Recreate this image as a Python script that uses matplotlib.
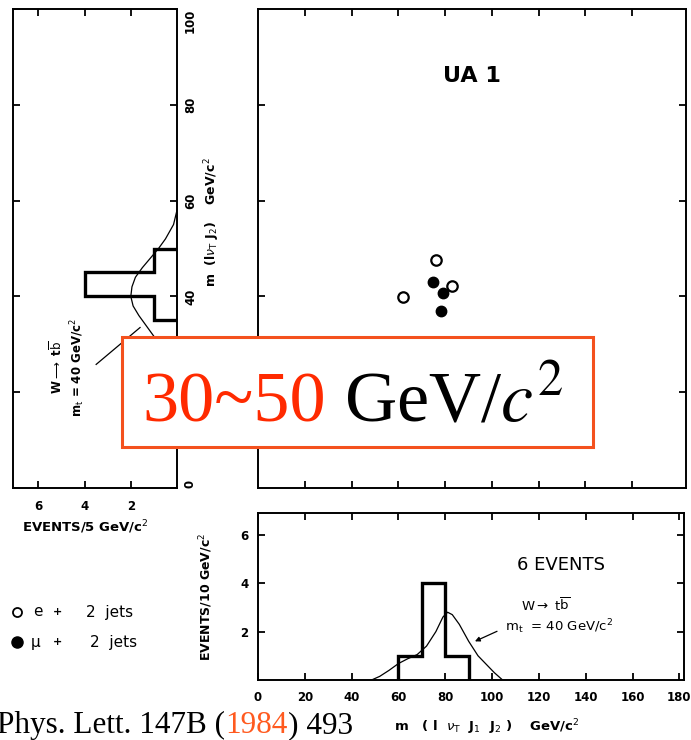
import matplotlib
matplotlib.use("Agg")
import matplotlib.pyplot as plt
from matplotlib.lines import Line2D
from matplotlib.patches import Rectangle
from matplotlib.text import Annotation

## data
# scatter: m(l nu J1 J2) vs m(l nu J2), GeV/c^2
e_x = [76.3, 83.1, 61.8]
e_y = [47.7, 42.1, 39.8]
mu_x = [75.0, 78.9, 78.4]
mu_y = [43.1, 40.8, 36.9]

# left projection, 5 GeV bins
left_edges = [35, 40, 45, 50]
left_counts = [1, 4, 1]
left_curve_m = [22, 24, 26, 28, 30, 32, 34, 36, 38, 40, 42, 44, 46, 48, 50, 52, 55, 58]
left_curve_n = [0.05, 0.15, 0.3, 0.5, 0.75, 1.05, 1.35, 1.65, 1.9, 2.0, 1.95, 1.8, 1.5, 1.15, 0.8, 0.5, 0.15, 0.0]

# bottom projection, 10 GeV bins
bot_edges = [60, 70, 80, 90]
bot_counts = [1, 4, 1]
bot_curve_m = [48.5, 52, 56, 60, 64, 68, 72, 76, 79, 81, 83, 86, 90, 94, 98, 101, 104.5]
bot_curve_n = [0.0, 0.15, 0.4, 0.68, 0.88, 1.05, 1.4, 2.0, 2.6, 2.8, 2.7, 2.3, 1.6, 1.0, 0.6, 0.3, 0.0]

left_xticks = [6, 4, 2]
mass_ticks = [0, 20, 40, 60, 80, 100]
bot_xticks = [0, 20, 40, 60, 80, 100, 120, 140, 160, 180]
bot_yticks = [2, 4, 6]

W, H = 691, 740
plt.rcParams['font.family'] = ['DejaVu Sans']
plt.rcParams['mathtext.fontset'] = 'dejavusans'

def fx(p):
  return p / W

def fy(p):
  return 1 - p / H

fig = plt.figure(figsize=(W / 100, H / 100), dpi=100)
fig.patch.set_facecolor('white')

tk = dict(direction='in', length=5, width=1.3, labelsize=8.5)

# left panel (sideways histogram)
axl = fig.add_axes([fx(13), fy(488), fx(164), 479 / H])
axl.stairs(left_counts, left_edges, orientation='horizontal', color='black', lw=2.4, baseline=0)
axl.plot(left_curve_n, left_curve_m, color='black', lw=0.9)
axl.set_xlim(7.1, 0)
axl.set_ylim(0, 100)
axl.set_xticks(left_xticks)
axl.set_yticks(mass_ticks)
axl.yaxis.tick_right()
axl.tick_params(axis='both', top=True, bottom=True, left=True, right=True, labelleft=False, labelright=True, **tk)
axl.tick_params(axis='x', pad=9)
axl.tick_params(axis='y', labelrotation=90, pad=5)
ylabs = axl.get_yticklabels()
for lb in ylabs:
  lb.set_va('center')
ylabs[0].set_va('bottom')
ylabs[-1].set_va('top')
for lb in axl.get_xticklabels() + ylabs:
  lb.set_fontweight('bold')
axl.text(4.74, 25.2, "W$\\longrightarrow$ t$\\overline{\\mathrm{b}}$\nm$_\\mathrm{t}$ = 40 GeV/c$^2$",
         rotation=90, ha='center', va='center', fontsize=8.5, fontweight='bold', multialignment='center')
axl.plot([3.5, 1.6], [25.8, 33.5], color='black', lw=0.9)

# main scatter
axm = fig.add_axes([fx(258), fy(488), fx(428), 479 / H])
axm.plot(mu_x, mu_y, 'o', color='black', ms=7.5)
axm.plot(e_x, e_y, 'o', mfc='white', mec='black', mew=1.6, ms=7.5)
axm.set_xlim(0, 183)
axm.set_ylim(0, 100)
axm.set_xticks(bot_xticks[1:-1])
axm.set_yticks(mass_ticks[1:-1])
axm.tick_params(axis='both', top=True, bottom=True, left=True, right=True,
                labelbottom=False, labelleft=False, **tk)
axm.text(0.5, 0.86, "UA 1", transform=axm.transAxes, ha='center', va='center', fontsize=16, fontweight='bold')

# bottom histogram
axb = fig.add_axes([fx(258), fy(680), fx(426), 167 / H])
axb.stairs(bot_counts, bot_edges, color='black', lw=2.4, baseline=0)
axb.plot(bot_curve_m, bot_curve_n, color='black', lw=0.9)
axb.set_xlim(0, 182)
axb.set_ylim(0, 6.9)
axb.set_xticks(bot_xticks)
axb.set_yticks(bot_yticks)
axb.tick_params(axis='both', top=True, bottom=True, left=True, right=True, **tk)
axb.tick_params(axis='x', pad=8)
axb.tick_params(axis='y', pad=7)
for lb in axb.get_xticklabels() + axb.get_yticklabels():
  lb.set_fontweight('bold')
axb.text(129.6, 4.74, "6 EVENTS", ha='center', va='center', fontsize=13)
axb.text(123, 3.1, "W$\\rightarrow$ t$\\overline{\\mathrm{b}}$", ha='center', va='center', fontsize=9.5)
axb.text(105.5, 2.2, "m$_\\mathrm{t}$  = 40 GeV/c$^2$", ha='left', va='center', fontsize=9.5)
axb.annotate("", xy=(91.6, 1.55), xytext=(103.2, 2.06),
             arrowprops=dict(arrowstyle='-|>', color='black', lw=0.9, mutation_scale=7))

for a in (axl, axm, axb):
  for s in a.spines.values():
    s.set_linewidth(1.4)

# axis titles
fig.text(fx(212), fy(222), "m  (l$\\nu_\\mathrm{T}$ J$_2$)    GeV/c$^2$", rotation=90,
         ha='center', va='center', fontsize=9, fontweight='bold')
fig.text(fx(85), fy(527), "EVENTS/5 GeV/c$^2$", ha='center', va='center', fontsize=9.5, fontweight='bold')
fig.text(fx(206), fy(597), "EVENTS/10 GeV/c$^2$", rotation=90, ha='center', va='center',
         fontsize=9, fontweight='bold')
fig.text(fx(487), fy(727), "m   ( l  $\\nu_\\mathrm{T}$  J$_1$  J$_2$ )    GeV/c$^2$", ha='center', va='center',
         fontsize=9.5, fontweight='bold')

# legend
fig.add_artist(Line2D([fx(17)], [fy(612)], marker='o', ms=6.5, mfc='white', mec='black', mew=1.3,
                      transform=fig.transFigure))
fig.add_artist(Line2D([fx(17)], [fy(642)], marker='o', ms=8, color='black',
                      transform=fig.transFigure))
fig.text(fx(33), fy(612), "e", va='center', fontsize=11)
fig.text(fx(31), fy(642), "\u03bc", va='center', fontsize=11)
for yy in (612, 642):
  fig.text(fx(58), fy(yy), "+", va='center', ha='center', fontsize=8, fontweight='bold')
fig.text(fx(86), fy(612), "2  jets", va='center', fontsize=11)
fig.text(fx(90), fy(642), "2  jets", va='center', fontsize=11)

# highlight box
fig.add_artist(Rectangle((fx(122), fy(447)), fx(471), 110 / H, transform=fig.transFigure,
                         facecolor='white', edgecolor='#f4511e', lw=2.2, zorder=5))
t1 = fig.text(fx(142), fy(421), "30~50", color='#ff2a00', fontsize=52, family='Liberation Serif',
              va='baseline', zorder=6)
fig.add_artist(Annotation(" GeV/$c^2$", xy=(1, 0), xycoords=t1, va='bottom', ha='left',
                          color='black', fontsize=52, family='Liberation Serif',
                          math_fontfamily='stix', zorder=6))

# reference caption
c1 = fig.text(-0.004, fy(733), "Phys. Lett. 147B (", fontsize=22.5, family='Liberation Serif', va='baseline')
c2 = fig.add_artist(Annotation("1984", xy=(1, 0), xycoords=c1, va='bottom', ha='left',
                               color='#ff5a1f', fontsize=22.5, family='Liberation Serif'))
fig.add_artist(Annotation(") 493", xy=(1, 0), xycoords=c2, va='bottom', ha='left',
                          color='black', fontsize=22.5, family='Liberation Serif'))

plt.savefig("out.png", dpi=100)
plt.close()
